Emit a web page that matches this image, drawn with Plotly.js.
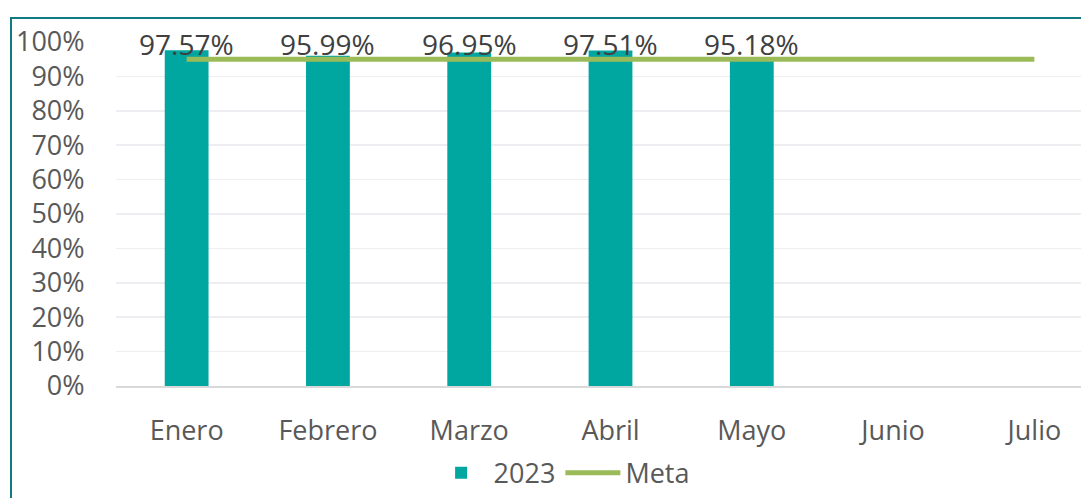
<!DOCTYPE html>
<html><head><meta charset="utf-8">
<script src="https://cdn.plot.ly/plotly-3.0.1.min.js"></script>
<style>
html,body{margin:0;padding:0;width:1081px;height:498px;overflow:hidden;background:#fff;}
#frame{position:absolute;left:10px;top:17px;width:1200px;height:600px;border-left:2px solid #137A80;border-top:2px solid #137A80;}
#chart{position:absolute;left:0;top:0;width:1130px;height:498px;}
</style></head>
<body>
<div id="frame"></div>
<div id="chart"></div>
<script>
const months = ["Enero","Febrero","Marzo","Abril","Mayo","Junio","Julio"];
const values2023 = [0.9757,0.9599,0.9695,0.9751,0.9518,null,null];
const meta = [0.95,0.95,0.95,0.95,0.95,0.95,0.95];
const labels = ["97.57%","95.99%","96.95%","97.51%","95.18%"];

const font = "Open Sans, sans-serif";
const traces = [
  {type:"bar", name:"2023", x:months, y:values2023, marker:{color:"#00A6A0"}, hoverinfo:"skip"},
  {type:"scatter", mode:"lines", name:"Meta", x:months, y:meta, line:{color:"#9BBB59", width:5}, hoverinfo:"skip"}
];
const annotations = labels.map((t,i)=>({
  x:months[i], y:1, xref:"x", yref:"y", text:t, showarrow:false,
  yanchor:"middle", yshift:-2, font:{family:font, size:28, color:"#404040"}
}));
const layout = {
  width:1130, height:498,
  margin:{l:116, r:25, t:42, b:112},
  paper_bgcolor:"rgba(0,0,0,0)", plot_bgcolor:"#fff",
  bargap:0.69,
  showlegend:true,
  legend:{orientation:"h", x:0.497, xanchor:"center", xref:"container", y:0.05, yanchor:"middle", yref:"container",
          font:{family:font, size:27, color:"#595959"}, itemwidth:55, traceorder:"normal"},
  xaxis:{type:"category", showgrid:false, showline:true, linecolor:"#D9D9D9", linewidth:2, automargin:false,
         ticks:"outside", ticklen:20, tickcolor:"rgba(0,0,0,0)",
         tickfont:{family:font, size:27, color:"#595959"}},
  yaxis:{range:[0,1], dtick:0.1, tickformat:".0%", showgrid:true, gridcolor:"#EDEDF2", gridwidth:1.5, automargin:false,
         zeroline:false, showline:false, ticks:"outside", ticklen:25, tickcolor:"rgba(0,0,0,0)",
         tickfont:{family:font, size:27, color:"#595959"}},
  annotations:annotations
};
Plotly.newPlot("chart", traces, layout, {displayModeBar:false, staticPlot:true});
</script>
</body></html>
